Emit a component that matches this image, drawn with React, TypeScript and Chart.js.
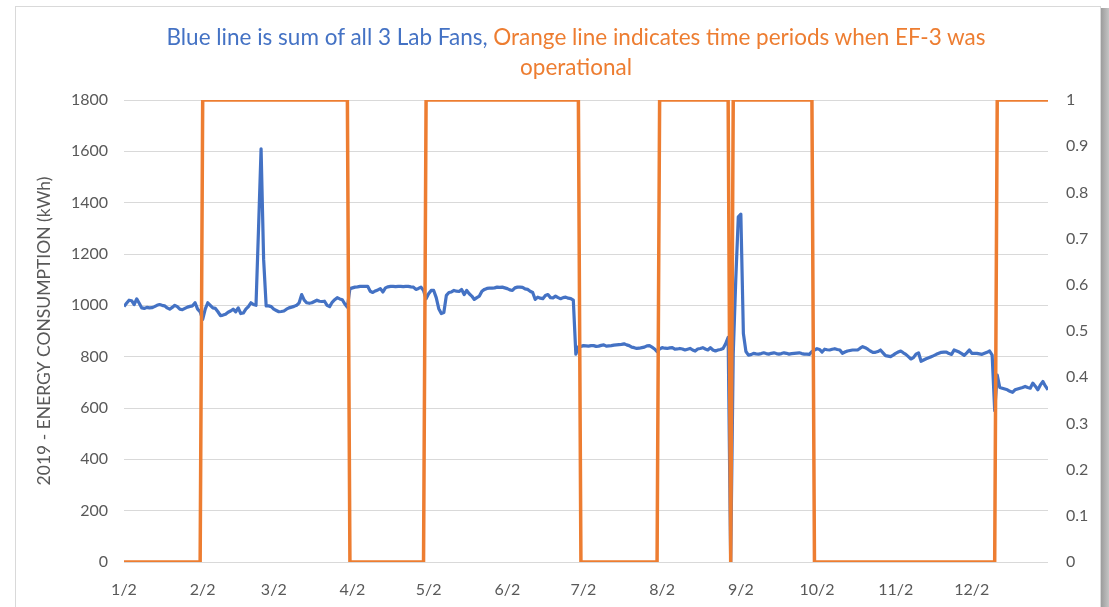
import { useEffect, useRef } from 'react';
import { Chart, registerables } from 'chart.js';

Chart.register(...registerables);

// X axis: day index from 1/2/2019; month labels at the 2nd of each month
const monthTickDays = [0, 31, 59, 90, 120, 151, 181, 212, 243, 273, 304, 334];
const monthTickLabels = ['1/2', '2/2', '3/2', '4/2', '5/2', '6/2', '7/2', '8/2', '9/2', '10/2', '11/2', '12/2'];

// Blue: sum of all 3 lab fans, daily kWh (1/2/2019 .. 1/1/2020)
const fanTotalKWh = [
  995, 1008, 1020, 1018, 1003, 1025, 1008, 990, 988, 992,
  990, 991, 995, 1000, 1003, 1000, 998, 990, 985, 992,
  1000, 995, 985, 983, 988, 993, 996, 998, 1010, 985,
  975, 945, 985, 1010, 1000, 990, 988, 975, 960, 962,
  965, 973, 978, 985, 975, 990, 968, 970, 985, 995,
  1010, 1003, 1000, 1300, 1610, 1180, 998, 998, 995, 985,
  980, 975, 976, 978, 985, 990, 993, 996, 1000, 1010,
  1042, 1020, 1010, 1008, 1010, 1015, 1020, 1016, 1015, 1016,
  1000, 995, 1012, 1022, 1030, 1025, 1022, 1005, 993, 1065,
  1068, 1071, 1072, 1074, 1074, 1074, 1074, 1055, 1050, 1056,
  1060, 1065, 1052, 1068, 1072, 1074, 1074, 1073, 1074, 1074,
  1073, 1074, 1074, 1072, 1071, 1062, 1066, 1071, 1058, 1026,
  1045, 1058, 1058, 1030, 987, 968, 972, 1039, 1050, 1052,
  1058, 1055, 1054, 1062, 1042, 1058, 1045, 1036, 1023, 1030,
  1036, 1055, 1062, 1066, 1067, 1067, 1068, 1071, 1070, 1071,
  1068, 1065, 1060, 1058, 1068, 1071, 1071, 1070, 1064, 1062,
  1055, 1050, 1023, 1032, 1028, 1026, 1038, 1042, 1030, 1029,
  1036, 1030, 1026, 1030, 1032, 1028, 1026, 1020, 810, 838,
  840, 843, 842, 841, 843, 843, 840, 841, 844, 846,
  841, 842, 843, 845, 846, 847, 848, 850, 846, 843,
  837, 835, 832, 833, 835, 837, 842, 843, 837, 830,
  820, 830, 835, 833, 832, 834, 835, 829, 830, 832,
  830, 826, 829, 832, 826, 822, 830, 832, 835, 830,
  826, 835, 826, 822, 826, 828, 832, 850, 875, 0,
  810, 1100, 1345, 1355, 890, 820, 806, 808, 813, 811,
  810, 812, 815, 812, 810, 813, 815, 812, 810, 812,
  815, 813, 810, 812, 813, 814, 815, 812, 810, 810,
  809, 820, 826, 831, 828, 818, 829, 827, 826, 829,
  831, 828, 826, 813, 818, 822, 824, 826, 826, 826,
  833, 839, 835, 829, 822, 817, 817, 820, 826, 815,
  804, 802, 800, 806, 813, 818, 822, 815, 809, 800,
  791, 796, 810, 815, 782, 787, 792, 796, 800, 804,
  809, 813, 817, 818, 818, 812, 809, 826, 822, 818,
  812, 805, 815, 826, 813, 813, 813, 811, 809, 813,
  817, 822, 806, 590, 728, 680, 677, 674, 671, 665,
  661, 671, 674, 677, 680, 684, 680, 677, 697, 685,
  671, 690, 703, 685, 671,
];

// Orange: EF-3 operational (1) or not (0); vertices of the step trace (day index)
const ef3Days = [0, 30, 31, 88, 89, 118, 119, 179, 180, 210, 211, 238, 239, 240, 271, 272, 343, 344, 364];
const ef3On = [0, 0, 1, 1, 0, 0, 1, 1, 0, 0, 1, 1, 0, 1, 1, 0, 0, 1, 1];

const BLUE = '#4472C4';
const ORANGE = '#ED7D31';
const TEXT = '#595959';
const GRID = '#d9d9d9';
const FONT = 'Lato, "Noto Sans", sans-serif';

export default function App() {
  const ref = useRef<HTMLCanvasElement>(null);

  useEffect(() => {
    if (!ref.current) return;
    const chart = new Chart(ref.current, {
      type: 'line',
      data: {
        datasets: [
          {
            label: 'EF-3 operational',
            data: ef3Days.map((d, i) => ({ x: d, y: ef3On[i] })),
            yAxisID: 'y1',
            borderColor: ORANGE,
            backgroundColor: ORANGE,
            borderWidth: 3.5,
            pointRadius: 0,
            tension: 0,
            borderJoinStyle: 'round',
            order: 0,
          },
          {
            label: 'Sum of 3 Lab Fans',
            data: fanTotalKWh.map((v, i) => ({ x: i, y: v })),
            yAxisID: 'y',
            borderColor: BLUE,
            backgroundColor: BLUE,
            borderWidth: 3.2,
            pointRadius: 0,
            tension: 0,
            borderJoinStyle: 'round',
            order: 1,
          },
        ],
      },
      options: {
        animation: false,
        responsive: false,
        maintainAspectRatio: false,
        layout: { padding: { top: 100, left: 0, right: 0, bottom: 0 } },
        plugins: { legend: { display: false }, tooltip: { enabled: false }, title: { display: false } },
        scales: {
          x: {
            type: 'linear',
            min: 0,
            max: 364,
            grid: { display: false },
            border: { display: false },
            afterBuildTicks: (s: any) => {
              s.ticks = monthTickDays.map((v) => ({ value: v }));
            },
            afterFit: (s: any) => {
              s.height = 45;
            },
            ticks: {
              autoSkip: false,
              maxRotation: 0,
              color: TEXT,
              padding: 10,
              font: { family: FONT, size: 16 },
              callback: (v: any) => {
                const k = monthTickDays.indexOf(Number(v));
                return k >= 0 ? monthTickLabels[k] : '';
              },
            },
          },
          y: {
            position: 'left',
            min: 0,
            max: 1800,
            grid: { color: GRID, lineWidth: 1, drawTicks: false },
            border: { display: false },
            afterFit: (s: any) => {
              s.width = 124;
            },
            ticks: {
              stepSize: 200,
              color: TEXT,
              padding: 16,
              font: { family: FONT, size: 16 },
              callback: (v: any) => String(Math.round(Number(v))),
            },
            title: {
              display: true,
              text: '2019 - ENERGY CONSUMPTION (kWh)',
              color: TEXT,
              font: { family: FONT, size: 17.5 },
              padding: { top: 34, bottom: 0 },
            },
          },
          y1: {
            position: 'right',
            min: 0,
            max: 1,
            grid: { drawOnChartArea: false, drawTicks: false },
            border: { display: false },
            afterFit: (s: any) => {
              s.width = 61;
            },
            ticks: {
              stepSize: 0.1,
              color: TEXT,
              padding: 18,
              font: { family: FONT, size: 16 },
              callback: (v: any) => String(Number(Number(v).toFixed(1))),
            },
          },
        },
      },
    });
    return () => chart.destroy();
  }, []);

  return (
    <>
      <div
        style={{
          position: 'absolute',
          left: 15,
          top: 6,
          width: 1086,
          height: 601,
          boxSizing: 'border-box',
          border: '1px solid #d9d9d9',
          borderBottom: 'none',
          background: '#ffffff',
        }}
      />
      <div
        style={{
          position: 'absolute',
          left: 1101,
          top: 8,
          width: 8,
          height: 599,
          background: 'linear-gradient(to right, #9c9c9c, #c4c4c4)',
        }}
      />
      <canvas
        ref={ref}
        width={1109}
        height={607}
        style={{ position: 'absolute', left: 0, top: 0, width: 1109, height: 607 }}
      />
      <div
        style={{
          position: 'absolute',
          left: 76,
          top: 22,
          width: 1000,
          textAlign: 'center',
          fontFamily: FONT,
          fontSize: 22.5,
          lineHeight: '30px',
        }}
      >
        <span style={{ color: BLUE }}>Blue line is sum of all 3 Lab Fans, </span>
        <span style={{ color: ORANGE }}>
          Orange line indicates time periods when EF-3 was
          <br />
          operational
        </span>
      </div>
    </>
  );
}
